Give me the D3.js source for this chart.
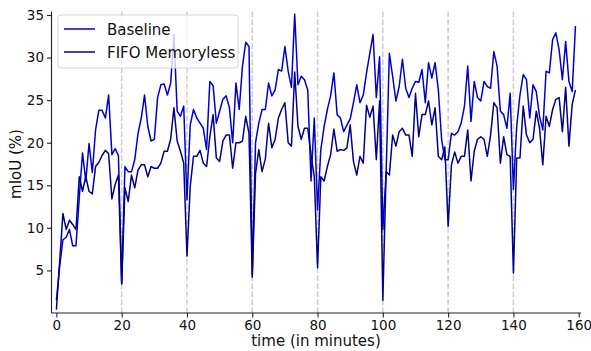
<!DOCTYPE html>
<html>
<meta charset="utf-8">
<style>
  body { margin: 0; background: #fff; }
  svg { display: block; font-family: "DejaVu Sans", sans-serif; }
</style>
<body>
<svg width="591" height="351"></svg>
<script src="https://cdnjs.cloudflare.com/ajax/libs/d3/7.8.5/d3.min.js"></script>
<script>
// mIoU per minute
const baseline = [
  1.5, 5.5, 8.6, 8.9, 9.8, 7.9, 7.9, 13.5, 18.8, 15.5,
  19.9, 16.5, 21.5, 23.8, 23.8, 22.9, 25.6, 18.6, 19.3, 18.5,
  3.5, 17.2, 16.6, 16.6, 18, 21.1, 22.9, 25.6, 21.9, 20.2,
  20.4, 25.3, 26.8, 26.9, 25.6, 27, 32.7, 23.7, 23.1, 24.3,
  13.3, 22.1, 23.9, 22.9, 22.3, 21.7, 19.2, 27.2, 26.7, 22.3,
  23.7, 25.1, 25.5, 24.1, 20, 27, 23.9, 29, 31.8, 31.3,
  4.5, 20, 22.3, 23.9, 23.9, 27, 25.5, 26.2, 28.6, 28.4,
  31.3, 28.4, 26.5, 35.1, 26.8, 27.8, 27.4, 26.2, 15.5, 22.9,
  12.1, 19.2, 21.9, 23.9, 25.5, 28.2, 23.3, 22.9, 21.3, 22.1,
  22.8, 24.7, 26.8, 24.7, 25.6, 28.2, 30.5, 32.7, 25.3, 30.1,
  9.8, 16.4, 30.5, 27.8, 24.9, 26.6, 29.8, 26.4, 25.3, 26.4,
  27.2, 27.1, 28.6, 24.7, 29.4, 27.6, 29.4, 26.2, 20.4, 18,
  18, 21.1, 20.9, 21.3, 22.3, 24.3, 29, 22.5, 27.2, 25.3,
  24.9, 27.2, 26.6, 26.4, 30.7, 29, 23.7, 23.3, 21.7, 25.8,
  14.5, 21.9, 25.6, 28, 27.4, 22.9, 26.8, 26, 23.1, 21.5,
  28.4, 28.2, 32.1, 32.9, 30.9, 27.4, 31.9, 27.2, 26, 33.7
];
const fifo = [
  0.4, 6, 11.7, 9.8, 10.9, 10.4, 9.8, 16, 14.3, 16,
  14.3, 14, 17.2, 17.7, 18.5, 19.1, 18.7, 13.4, 15.1, 16.2,
  3.4, 14.7, 13.1, 16.2, 14.7, 16.8, 17.4, 17.4, 16, 17.2,
  17, 17, 17.6, 19, 19, 20.4, 24.1, 20.2, 19, 17.6,
  6.7, 14.9, 18.4, 18.4, 19.1, 17.6, 17.2, 20.7, 23.3, 18.2,
  17.8, 20.2, 20.9, 20.9, 17, 20, 20, 20.2, 23.1, 21.1,
  4.2, 16.4, 19.2, 16.6, 18.1, 22.3, 19.4, 20.4, 22.9, 23.9,
  24.7, 20, 19.6, 28.3, 21.9, 20.4, 21.7, 21.7, 18.6, 16,
  5.3, 16, 15.5, 17.2, 18.6, 21.6, 19, 19.2, 19.1, 19.4,
  22.1, 17.8, 16.2, 18.4, 17.6, 24.4, 23, 24.3, 18, 24.9,
  1.5, 16.6, 16.2, 20.9, 19.6, 21.3, 21.7, 20.9, 20.9, 18.4,
  25.8, 20.7, 23.3, 23.3, 24.9, 22.1, 24.1, 18.4, 18, 19.5,
  10.2, 17.4, 18.9, 17.6, 18.4, 18.4, 21.5, 15.5, 19, 20.4,
  20.7, 20.4, 18.4, 20.9, 24.7, 24.1, 17.6, 20.7, 18.6, 18.4,
  4.7, 18.2, 18.2, 24.3, 20.9, 20, 20.4, 23.7, 21.7, 17.4,
  23.1, 21.9, 23.9, 25.1, 25.3, 21.3, 26.5, 19.6, 24.5, 26.2
];
const xTicks = [0, 20, 40, 60, 80, 100, 120, 140, 160];
const yTicks = [5, 10, 15, 20, 25, 30, 35];
const shiftTimes = [20, 40, 60, 80, 100, 120, 140];
const seriesNames = ["Baseline", "FIFO Memoryless"];
const seriesColors = ["#0000cd", "#00008b"];

const svg = d3.select("svg");
const x = d3.scaleLinear().domain([-1.5, 160.7]).range([51.5, 581]);
const y = d3.scaleLinear().domain([0, 35]).range([313, 15]);

// dashed markers
svg.append("g").selectAll("line").data(shiftTimes).enter().append("line")
  .attr("x1", d => x(d)).attr("x2", d => x(d))
  .attr("y1", y(35.4)).attr("y2", y(0))
  .attr("stroke", "#cccccc").attr("stroke-width", 1.5)
  .attr("stroke-dasharray", "5.5,2.5");

const line = d3.line().x((d, i) => x(i)).y(d => y(d));
[baseline, fifo].forEach((s, k) => {
  svg.append("path").datum(s)
    .attr("d", line)
    .attr("fill", "none")
    .attr("stroke", seriesColors[k])
    .attr("stroke-width", 1.5)
    .attr("stroke-linejoin", "round");
});

// axes
const xAxis = svg.append("g").attr("transform", `translate(0,${y(0)})`)
  .call(d3.axisBottom(x).tickValues(xTicks).tickSize(4.5).tickPadding(3).tickSizeOuter(0));
const yAxis = svg.append("g").attr("transform", `translate(${x.range()[0]},0)`)
  .call(d3.axisLeft(y).tickValues(yTicks).tickSize(4.5).tickPadding(3).tickSizeOuter(0));
[xAxis, yAxis].forEach(g => {
  g.select(".domain").attr("stroke", "#222").attr("stroke-width", 1.1);
  g.selectAll(".tick line").attr("stroke", "#222").attr("stroke-width", 1.1);
  g.selectAll("text").attr("font-size", 13.5).attr("fill", "#111")
    .attr("font-family", "DejaVu Sans, sans-serif");
});
yAxis.select(".domain").attr("d", `M0,${y(0)}V${y(35.4)}`);
xAxis.select(".domain").attr("d", `M${x.range()[0]},0H${x.range()[1]}`);

svg.append("text").attr("x", 316).attr("y", 346)
  .attr("text-anchor", "middle").attr("font-size", 15).attr("fill", "#111")
  .text("time (in minutes)");
svg.append("text").attr("transform", "translate(21,164) rotate(-90)")
  .attr("text-anchor", "middle").attr("font-size", 15).attr("fill", "#111")
  .text("mIoU (%)");

// legend
const lg = svg.append("g").attr("transform", "translate(58,15)");
lg.append("rect").attr("width", 180).attr("height", 53).attr("rx", 3)
  .attr("fill", "rgba(255,255,255,0.8)").attr("stroke", "#d5d5d5");
seriesNames.forEach((n, i) => {
  lg.append("line").attr("x1", 6).attr("x2", 37)
    .attr("y1", 14 + i * 23).attr("y2", 14 + i * 23)
    .attr("stroke", seriesColors[i]).attr("stroke-width", 1.5);
  lg.append("text").attr("x", 49).attr("y", 19.5 + i * 23)
    .attr("font-size", 15).attr("fill", "#111").text(n);
});
</script>
</body>
</html>
